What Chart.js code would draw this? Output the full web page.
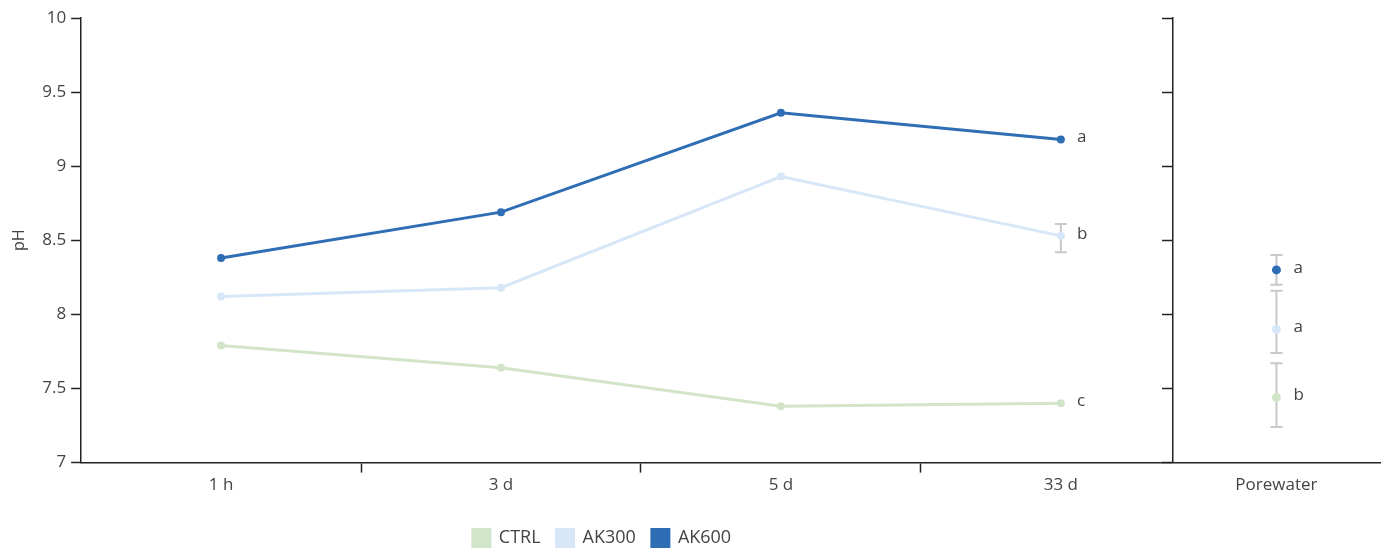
<!DOCTYPE html>
<html>
<head>
<meta charset="utf-8">
<script src="https://cdn.jsdelivr.net/npm/chart.js@4"></script>
<style>
  html, body { margin: 0; padding: 0; background: #fff; }
  #wrap { width: 1385px; height: 551px; }
</style>
</head>
<body>
<div id="wrap"><canvas id="c"></canvas></div>
<script>
// ---- data ----
const categories = ['1 h', '3 d', '5 d', '33 d'];
const porewaterLabel = 'Porewater';
const seriesNames = ['CTRL', 'AK300', 'AK600'];
const ctrlValues  = [7.79, 7.64, 7.38, 7.40];
const ak300Values = [8.12, 8.18, 8.93, 8.53];
const ak600Values = [8.38, 8.69, 9.36, 9.18];
// porewater means [CTRL, AK300, AK600]
const porewaterValues = [7.44, 7.90, 8.30];
const porewaterErrLow  = [7.24, 7.74, 8.20];
const porewaterErrHigh = [7.67, 8.16, 8.40];
// 33 d error bar (AK300)
const day33ErrLow  = [null, 8.42, null];
const day33ErrHigh = [null, 8.61, null];
// significance letters [CTRL, AK300, AK600]
const day33Letters = ['c', 'b', 'a'];
const porewaterLetters = ['b', 'a', 'a'];
const yTicks = [7, 7.5, 8, 8.5, 9, 9.5, 10];

// ---- style / positions ----
const colors = ['#d3e5c9', '#d8e7f7', '#2f6db5'];
const catX = [0, 1, 2, 3];
const porewaterX = 3.77;
const dividerX = 3.4;
const textColor = '#444';
const axisColor = '#222';
const fontFamily = '"Open Sans", "DejaVu Sans", sans-serif';

const seriesVals = [ctrlValues, ak300Values, ak600Values];
const datasets = [];
seriesNames.forEach((name, i) => {
  datasets.push({
    label: name,
    data: catX.map((x, k) => ({ x: x, y: seriesVals[i][k] })),
    borderColor: colors[i],
    backgroundColor: colors[i],
    borderWidth: 3,
    pointRadius: 4,
    pointHoverRadius: 4,
    pointBorderWidth: 0,
    tension: 0,
    showLine: true,
    order: 3 - i
  });
});
seriesNames.forEach((name, i) => {
  datasets.push({
    label: name + ' porewater',
    data: [{ x: porewaterX, y: porewaterValues[i] }],
    borderColor: colors[i],
    backgroundColor: colors[i],
    pointRadius: 4.5,
    pointHoverRadius: 4.5,
    pointBorderWidth: 0,
    showLine: false,
    isPore: true,
    order: 3 - i
  });
});

const xTickVals = [0, 0.5, 1, 1.5, 2, 2.5, 3, porewaterX];
function xLabel(v) {
  const idx = catX.indexOf(v);
  if (idx >= 0) return categories[idx];
  if (Math.abs(v - porewaterX) < 1e-6) return porewaterLabel;
  return '';
}

const errorBarPlugin = {
  id: 'errorBars',
  beforeDatasetsDraw(chart) {
    const { ctx, scales: { x, y } } = chart;
    ctx.save();
    ctx.strokeStyle = '#c9c9c9';
    ctx.lineWidth = 2;
    const cap = 6;
    function bar(xv, lo, hi) {
      const px = x.getPixelForValue(xv);
      const pl = y.getPixelForValue(lo);
      const ph = y.getPixelForValue(hi);
      ctx.beginPath();
      ctx.moveTo(px, pl); ctx.lineTo(px, ph);
      ctx.moveTo(px - cap, pl); ctx.lineTo(px + cap, pl);
      ctx.moveTo(px - cap, ph); ctx.lineTo(px + cap, ph);
      ctx.stroke();
    }
    for (let i = 0; i < 3; i++) {
      if (day33ErrLow[i] != null) bar(catX[3], day33ErrLow[i], day33ErrHigh[i]);
      bar(porewaterX, porewaterErrLow[i], porewaterErrHigh[i]);
    }
    ctx.restore();
  },
  afterDatasetsDraw(chart) {
    const { ctx, scales: { x, y } } = chart;
    ctx.save();
    ctx.fillStyle = textColor;
    ctx.font = '17px ' + fontFamily;
    ctx.textAlign = 'left';
    ctx.textBaseline = 'middle';
    for (let i = 0; i < 3; i++) {
      ctx.fillText(day33Letters[i], x.getPixelForValue(catX[3]) + 16, y.getPixelForValue(seriesVals[i][3]) - 2);
      ctx.fillText(porewaterLetters[i], x.getPixelForValue(porewaterX) + 17, y.getPixelForValue(porewaterValues[i]) - 2);
    }
    ctx.restore();
  }
};

const LEGEND_CENTER_X = 602;
const LEGEND_BOX_TOP = 529;
const LEGEND_PAD = 16;
const legendShift = {
  id: 'legendShift',
  afterLayout(chart) {
    const lg = chart.legend;
    if (!lg) return;
    const dx = LEGEND_CENTER_X - (lg.left + lg.right) / 2;
    const dy = LEGEND_BOX_TOP - (lg.top + LEGEND_PAD);
    lg.left += dx; lg.right += dx;
    lg.top += dy; lg.bottom += dy;
  }
};

new Chart(document.getElementById('c'), {
  type: 'scatter',
  data: { datasets },
  plugins: [errorBarPlugin, legendShift],
  options: {
    responsive: true,
    maintainAspectRatio: false,
    animation: false,
    layout: { padding: { top: 18, right: 5, left: 10, bottom: 10 } },
    plugins: {
      tooltip: { enabled: false },
      legend: {
        position: 'bottom',
        labels: {
          filter: (item, data) => !data.datasets[item.datasetIndex].isPore,
          sort: (a, b) => a.datasetIndex - b.datasetIndex,
          boxWidth: 17,
          boxHeight: 17,
          padding: LEGEND_PAD,
          color: textColor,
          font: { family: fontFamily, size: 18 }
        }
      }
    },
    scales: {
      x: {
        type: 'linear',
        min: -0.5,
        max: 4.14,
        afterBuildTicks: (scale) => { scale.ticks = xTickVals.map(v => ({ value: v })); },
        ticks: {
          autoSkip: false,
          maxRotation: 0,
          color: textColor,
          padding: 2,
          font: { family: fontFamily, size: 17 },
          callback: (v) => xLabel(v)
        },
        grid: {
          drawOnChartArea: false,
          tickLength: 10,
          tickWidth: 1.5,
          tickColor: (ctx) => (ctx.tick && xLabel(ctx.tick.value) === '' ? axisColor : 'rgba(0,0,0,0)')
        },
        border: { color: axisColor, width: 1.5 }
      },
      y: {
        min: 7,
        max: 10,
        afterBuildTicks: (scale) => { scale.ticks = yTicks.map(v => ({ value: v })); },
        ticks: {
          color: textColor,
          padding: 5,
          font: { family: fontFamily, size: 17 },
          callback: (v) => String(v)
        },
        title: {
          display: true,
          text: 'pH',
          color: textColor,
          padding: { top: 0, bottom: 8 },
          font: { family: fontFamily, size: 16 }
        },
        grid: { drawOnChartArea: false, tickLength: 10, tickWidth: 1.5, tickColor: axisColor },
        border: { color: axisColor, width: 1.5 }
      },
      y2: {
        position: { x: dividerX },
        min: 7,
        max: 10,
        afterBuildTicks: (scale) => { scale.ticks = yTicks.map(v => ({ value: v })); },
        ticks: { display: false },
        grid: { drawOnChartArea: false, tickLength: 10, tickWidth: 1.5, tickColor: axisColor },
        border: { color: axisColor, width: 1.5 }
      }
    }
  }
});
</script>
</body>
</html>
